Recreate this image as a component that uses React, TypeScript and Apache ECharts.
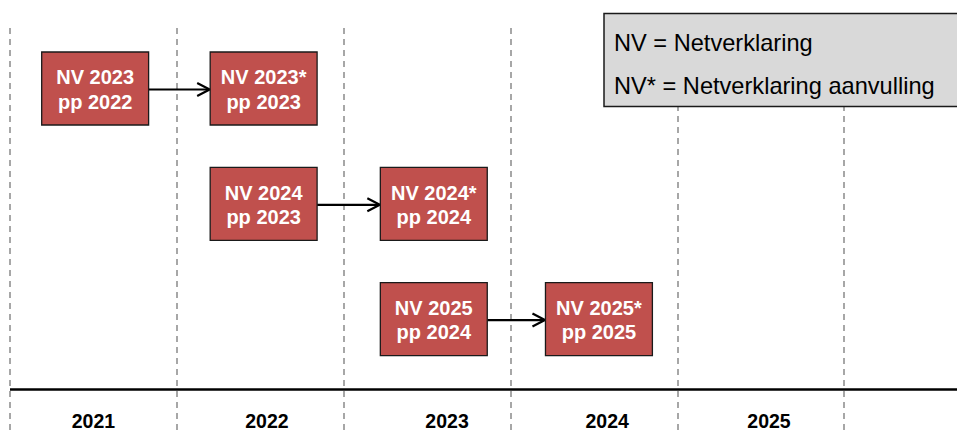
import React, { useEffect, useRef } from 'react';
import * as echarts from 'echarts';

// Tick labels (years) and their label positions on the year scale
const yearLabels = ['2021', '2022', '2023', '2024', '2025'];
const yearLabelPos = [2021.5, 2022.54, 2023.62, 2024.58, 2025.55];

// Boxes: start on the year scale, row, and two text lines
const boxStart = [2021.19, 2022.2, 2022.2, 2023.22, 2023.22, 2024.21];
const boxRow = [1, 1, 2, 2, 3, 3];
const boxLine1 = ['NV 2023', 'NV 2023*', 'NV 2024', 'NV 2024*', 'NV 2025', 'NV 2025*'];
const boxLine2 = ['pp 2022', 'pp 2023', 'pp 2023', 'pp 2024', 'pp 2024', 'pp 2025'];

// Arrows between boxes (indices)
const arrowFrom = [0, 2, 4];
const arrowTo = [1, 3, 5];

// Legend
const legendLines = ['NV = Netverklaring', 'NV* = Netverklaring aanvulling'];

const BOX_W = 0.641; // box width in years
const BOX_H = 73; // px
const FONT = '"Liberation Sans", Arial, Helvetica, sans-serif';

export default function App() {
  const ref = useRef<HTMLDivElement>(null);

  useEffect(() => {
    if (!ref.current) return;
    const chart = echarts.init(ref.current, undefined, { renderer: 'svg' });

    const boxData = boxStart.map((x, i) => [x, boxRow[i]]);
    const arrowData = arrowFrom.map((a, i) => [boxStart[a] + BOX_W, boxStart[arrowTo[i]], boxRow[a]]);
    const yearData = yearLabelPos.map((p) => [p, 1]);

    const option: any = {
      animation: false,
      backgroundColor: '#ffffff',
      grid: { left: 10, right: 0, top: 28, bottom: 0, containLabel: false },
      xAxis: {
        type: 'value',
        min: 2021,
        max: 2026.677,
        interval: 1,
        axisLine: { show: false },
        axisTick: { show: false },
        axisLabel: { show: false },
        splitLine: {
          show: true,
          showMaxLine: false,
          lineStyle: { color: '#8a8a8a', width: 1.5, type: [6, 5] },
        },
      },
      yAxis: {
        type: 'value',
        inverse: true,
        min: 0.475,
        max: 3.98,
        show: false,
        splitLine: { show: false },
      },
      graphic: {
        elements: [
          {
            type: 'line',
            z: 50,
            shape: { x1: 10, y1: 389.5, x2: 957, y2: 389.5 },
            style: { stroke: '#000000', lineWidth: 2.5 },
          },
          {
            type: 'rect',
            z: 100,
            shape: { x: 604, y: 13.5, width: 400, height: 93 },
            style: { fill: '#D9D9D9', stroke: '#1a1a1a', lineWidth: 1.5 },
          },
          ...legendLines.map((t, i) => ({
            type: 'text',
            z: 101,
            x: 614,
            y: 43 + i * 43.4,
            style: {
              text: t,
              font: `23.6px ${FONT}`,
              fill: '#000000',
              align: 'left',
              verticalAlign: 'middle',
            },
          })),
        ],
      },
      series: [
        {
          type: 'custom',
          name: 'arrows',
          z: 3,
          encode: { x: [0, 1], y: 2 },
          data: arrowData,
          renderItem: (params: any, api: any) => {
            const row = api.value(2);
            const p0 = api.coord([api.value(0), row]);
            const p1 = api.coord([api.value(1), row]);
            const y = p0[1] + 1;
            const tx = p1[0] - 0.5;
            return {
              type: 'group',
              children: [
                {
                  type: 'line',
                  shape: { x1: p0[0], y1: y, x2: tx - 1, y2: y },
                  style: { stroke: '#000000', lineWidth: 2.2 },
                },
                {
                  type: 'polyline',
                  shape: { points: [[tx - 12.5, y - 6.5], [tx, y], [tx - 12.5, y + 6.5]] },
                  style: { stroke: '#000000', lineWidth: 2.2, fill: 'none' },
                },
              ],
            };
          },
        },
        {
          type: 'custom',
          name: 'boxes',
          z: 4,
          encode: { x: 0, y: 1 },
          data: boxData,
          renderItem: (params: any, api: any) => {
            const i = params.dataIndex;
            const row = api.value(1);
            const x0 = api.value(0);
            const p0 = api.coord([x0, row]);
            const p1 = api.coord([x0 + BOX_W, row]);
            return {
              type: 'group',
              children: [
                {
                  type: 'rect',
                  shape: { x: p0[0], y: p0[1] - BOX_H / 2, width: p1[0] - p0[0], height: BOX_H },
                  style: { fill: '#C0504D', stroke: '#1a1a1a', lineWidth: 1.3 },
                },
                {
                  type: 'text',
                  x: (p0[0] + p1[0]) / 2,
                  y: p0[1] + 1.2,
                  style: {
                    text: boxLine1[i] + '\n' + boxLine2[i],
                    font: `bold 20px ${FONT}`,
                    fill: '#ffffff',
                    align: 'center',
                    verticalAlign: 'middle',
                    lineHeight: 24.5,
                  },
                },
              ],
            };
          },
        },
        {
          type: 'custom',
          name: 'years',
          z: 4,
          encode: { x: 0, y: 1 },
          data: yearData,
          renderItem: (params: any, api: any) => {
            const i = params.dataIndex;
            const p = api.coord([api.value(0), api.value(1)]);
            const cs = params.coordSys;
            return {
              type: 'text',
              x: p[0],
              y: cs.y + cs.height - 11,
              style: {
                text: yearLabels[i],
                font: `bold 19.5px ${FONT}`,
                fill: '#000000',
                align: 'center',
                verticalAlign: 'middle',
              },
            };
          },
        },
      ],
    };

    chart.setOption(option);
    return () => {
      chart.dispose();
    };
  }, []);

  return (
    <div
      ref={ref}
      style={{ position: 'fixed', left: 0, top: 0, width: 957, height: 432, background: '#ffffff' }}
    />
  );
}
